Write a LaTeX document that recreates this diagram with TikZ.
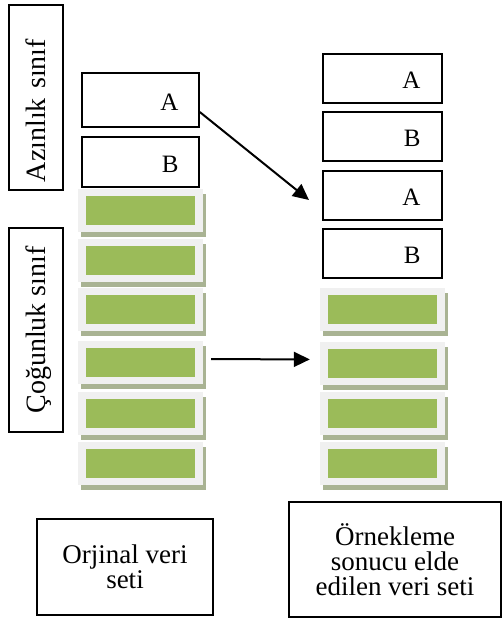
\documentclass[tikz,border=0pt]{standalone}
\usepackage{fontspec}
\setmainfont{Liberation Serif}
\usetikzlibrary{arrows.meta}

\definecolor{barGreen}{HTML}{9BBB59}
\definecolor{barFrame}{HTML}{F0F0F0}
\definecolor{barShadow}{HTML}{A9B393}

% one majority-class record: shadow, light frame and the green bar (named #1)
\newcommand\greenbar[3]{%
  \fill[barShadow] (#2-62.5+3,#3-21.5+5) rectangle (#2+62.5+3,#3+21.5+5);
  \fill[barFrame] (#2-62.5,#3-21.5) rectangle (#2+62.5,#3+21.5);
  \node[bar] (#1) at (#2,#3) {};
}

\begin{document}
\begin{tikzpicture}[x=1pt,y=-1pt,
  box/.style={draw=black, line width=1.5pt, fill=white, inner sep=0pt},
  letterbox/.style={box, text width=76pt, align=right,
    font=\fontsize{25}{25}\selectfont, text height=20pt, text depth=0pt},
  leftletter/.style={letterbox, minimum width=117pt},
  rightletter/.style={letterbox, minimum width=119pt, minimum height=49pt},
  sidelabel/.style={box, rotate=90, minimum height=54pt,
    font=\fontsize{28}{28}\selectfont, text depth=0pt},
  caption/.style={box, align=center, font=\fontsize{27}{25}\selectfont},
  bar/.style={fill=barGreen, draw=none, minimum width=109pt, minimum height=29pt, inner sep=0pt},
  arr/.style={-{Triangle[length=16pt,width=15pt]}, line width=2pt}
]
\useasboundingbox (0,0) rectangle (503,626);
\fill[white] (0,0) rectangle (503,626);

% class labels on the left
\node[sidelabel, minimum width=185pt, text width=169pt, align=left] (az) at (36,97.5) {Azınlık sınıf};
\node[sidelabel, minimum width=204pt, align=center] (cog) at (36,330) {Çoğunluk sınıf};

% original data set
\node[leftletter, minimum height=54pt] (LA) at (140.5,100) {A};
\node[leftletter, minimum height=50pt] (LB) at (140.5,162) {B};
\greenbar{LG1}{140.5}{210}
\greenbar{LG2}{140.5}{260}
\greenbar{LG3}{140.5}{309}
\greenbar{LG4}{140.5}{362.5}
\greenbar{LG5}{140.5}{413.5}
\greenbar{LG6}{140.5}{463.5}

% data set after sampling
\node[rightletter] (RA1) at (382.5,78.5) {A};
\node[rightletter] (RB1) at (382.5,136.5) {B};
\node[rightletter] (RA2) at (382.5,195.5) {A};
\node[rightletter] (RB2) at (382.5,253.5) {B};
\greenbar{RG1}{382.5}{309}
\greenbar{RG2}{382.5}{363}
\greenbar{RG3}{382.5}{413.5}
\greenbar{RG4}{382.5}{463}

% arrows
\coordinate (tipA) at (309,200);
\draw[arr] ([yshift=-12pt]LA.east) -- (tipA);
\draw[arr, shorten <=16pt, shorten >=18pt] ([yshift=3.5pt]LG4.east) -- ([yshift=3.5pt]RG2.west);

% captions
\node[caption, minimum width=176pt, minimum height=96pt] (orj) at (125,567) {Orjinal veri\\seti};
\node[caption, minimum width=212pt, minimum height=115pt] (ork) at (395,559.5) {Örnekleme\\sonucu elde\\edilen veri seti};
\end{tikzpicture}
\end{document}
